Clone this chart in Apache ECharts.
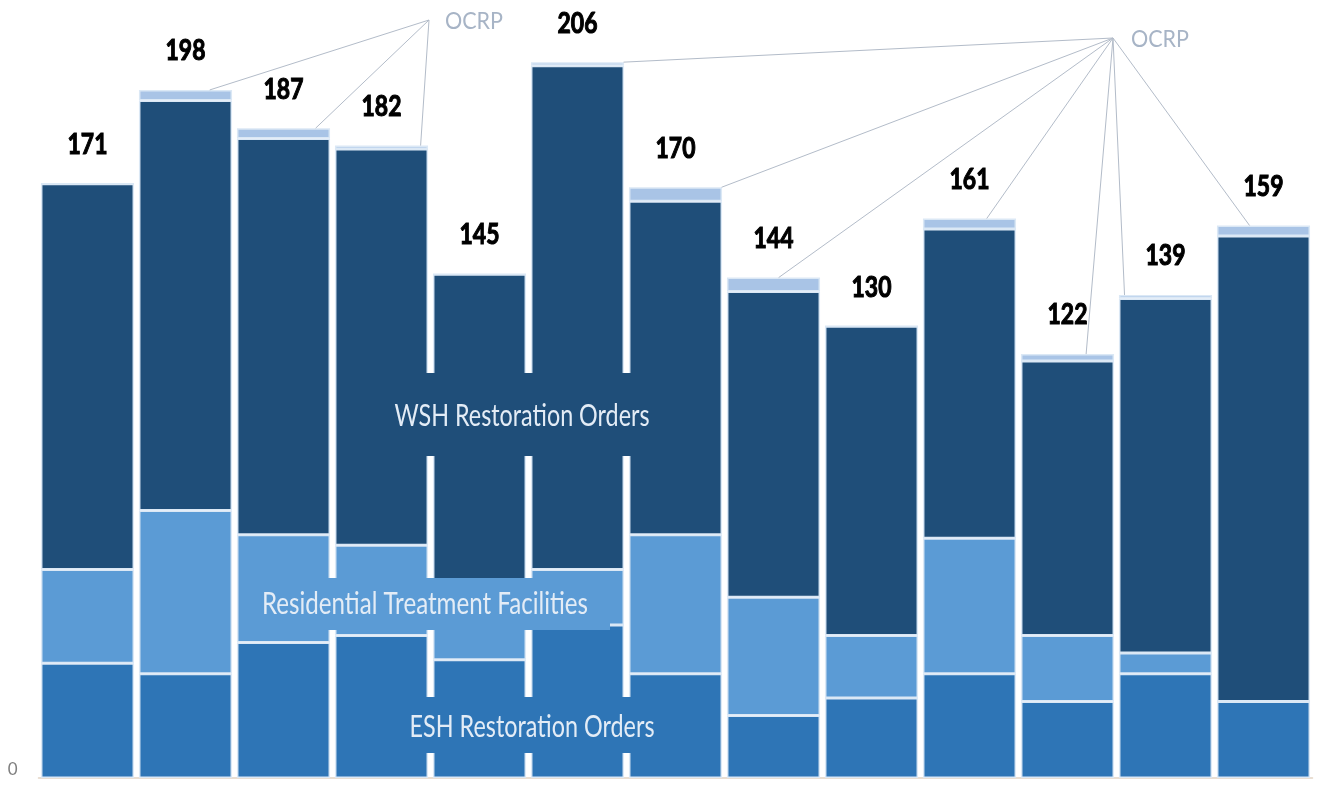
<!DOCTYPE html>
<html>
<head>
<meta charset="utf-8">
<script src="https://cdn.jsdelivr.net/npm/echarts@6/dist/echarts.min.js"></script>
<style>
html,body{margin:0;padding:0;background:#ffffff;}
#chart{width:1317px;height:786px;}
</style>
</head>
<body>
<div id="chart"></div>
<script>
// ---- data ----
const categories = ['1','2','3','4','5','6','7','8','9','10','11','12','13'];
const eshOrders  = [33, 30, 39, 41, 34, 44, 30, 18, 23, 30, 22, 30, 22];
const rtfValues  = [27, 47, 31, 26, 23, 16, 40, 34, 18, 39, 19,  6,  0];
const wshOrders  = [111,118,114,114, 88,145, 96, 88, 89, 89, 79,102,134];
const ocrpValues = [0,  3,  3,  1,  0,  1,  4,  4,  0,  3,  2,  1,  3];
const totals     = [171,198,187,182,145,206,170,144,130,161,122,139,159];
const yTickLabels = [0];

// ---- styles ----
const FONT = "Lato,'Open Sans','Noto Sans',sans-serif";
const C_ESH = '#2e75b6', C_RTF = '#5b9bd5', C_WSH = '#1f4e79', C_OCRP = '#a9c4e6';
const SEP = '#dbe8f5';

const chart = echarts.init(document.getElementById('chart'), null, {renderer:'canvas'});

function barSeries(name, data, color) {
  return {
    name: name, type: 'bar', stack: 'all', data: data,
    barCategoryGap: '5%',
    itemStyle: {color: color, borderColor: SEP, borderWidth: 1.5},
    emphasis: {disabled: true}
  };
}

const option = {
  animation: false,
  backgroundColor: '#ffffff',
  grid: {left: 38.5, right: 4.5, top: 13.5, bottom: 8, containLabel: false},
  xAxis: {
    type: 'category', data: categories,
    axisLine: {show: true, lineStyle: {color: '#e2d3c3', width: 1.5}},
    axisTick: {show: false}, axisLabel: {show: false}, splitLine: {show: false}
  },
  yAxis: {
    type: 'value', min: 0, max: 220, interval: 220,
    axisLine: {show: false}, axisTick: {show: false}, splitLine: {show: false},
    axisLabel: {
      show: true, margin: 21, color: '#7f7f7f', fontSize: 17, fontFamily: FONT,
      verticalAlign: 'bottom',
      formatter: v => (yTickLabels.indexOf(v) >= 0 ? String(v) : '')
    }
  },
  series: [
    barSeries('ESH Restoration Orders', eshOrders, C_ESH),
    barSeries('Residential Treatment Facilities', rtfValues, C_RTF),
    barSeries('WSH Restoration Orders', wshOrders, C_WSH),
    barSeries('OCRP', ocrpValues, C_OCRP)
  ]
};
chart.setOption(option);

// ---- text measuring to mimic the narrow (condensed) typeface of the original ----
const mctx = document.createElement('canvas').getContext('2d');
function narrowScale(text, font, targetWidth) {
  mctx.font = font;
  return targetWidth / mctx.measureText(text).width;
}

// ---- annotations (text boxes, totals, OCRP leader lines) ----
const leaderGroups = [
  {apex: [429, 20], text: [445, 21], ends: [[1, 0.52], [2, 0.69], [3, 0.84]]},
  {apex: [1113, 38], text: [1131, 39], ends: [[5, 0.99], [6, 0.99], [7, 0.11], [9, 0.37], [10, 0.4], [11, -0.88], [12, -0.3]]}
];
const segLabels = [
  {text: 'WSH Restoration Orders', box: [375, 373, 295, 83], center: [522, 416], width: 255, fill: C_WSH},
  {text: 'Residential Treatment Facilities', box: [240, 578, 370, 52], center: [425, 604], width: 326, fill: C_RTF},
  {text: 'ESH Restoration Orders', box: [390, 697, 285, 56], center: [532, 727], width: 245, fill: C_ESH}
];
const SEG_FONT = '31px ' + FONT;
const TOTAL_FONT = 'bold 29px ' + FONT;
const OCRP_FONT = '24px ' + FONT;

const px0 = chart.convertToPixel({gridIndex: 0}, [0, 0]);
const px1 = chart.convertToPixel({gridIndex: 0}, [1, 0]);
const halfBar = (px1[0] - px0[0]) * 0.95 / 2;

const graphics = [];
segLabels.forEach(s => {
  graphics.push({
    type: 'rect', z: 50,
    shape: {x: s.box[0], y: s.box[1], width: s.box[2], height: s.box[3]},
    style: {fill: s.fill}
  });
  graphics.push({
    type: 'text', z: 51, x: s.center[0], y: s.center[1],
    scaleX: narrowScale(s.text, SEG_FONT, s.width),
    style: {text: s.text, fill: '#e3ecf6', font: SEG_FONT, align: 'center', verticalAlign: 'middle'}
  });
});
// totals above each stack
totals.forEach((t, i) => {
  const p = chart.convertToPixel({gridIndex: 0}, [i, t]);
  const s = String(t);
  graphics.push({
    type: 'text', z: 45, x: p[0], y: p[1] - 39,
    scaleX: narrowScale(s, TOTAL_FONT, 13.3 * s.length),
    style: {text: s, fill: '#000000', stroke: '#000000', lineWidth: 1.1,
            font: TOTAL_FONT, align: 'center', verticalAlign: 'middle'}
  });
});
leaderGroups.forEach(g => {
  g.ends.forEach(e => {
    const p = chart.convertToPixel({gridIndex: 0}, [e[0], totals[e[0]]]);
    graphics.push({
      type: 'line', z: 40,
      shape: {x1: g.apex[0], y1: g.apex[1], x2: p[0] + e[1] * halfBar, y2: p[1]},
      style: {stroke: '#b3bcc9', lineWidth: 1}
    });
  });
  graphics.push({
    type: 'text', z: 41, x: g.text[0], y: g.text[1],
    scaleX: narrowScale('OCRP', OCRP_FONT, 58),
    style: {text: 'OCRP', fill: '#a7b4c6', font: OCRP_FONT, align: 'left', verticalAlign: 'middle'}
  });
});
chart.setOption({graphic: graphics});
</script>
</body>
</html>
